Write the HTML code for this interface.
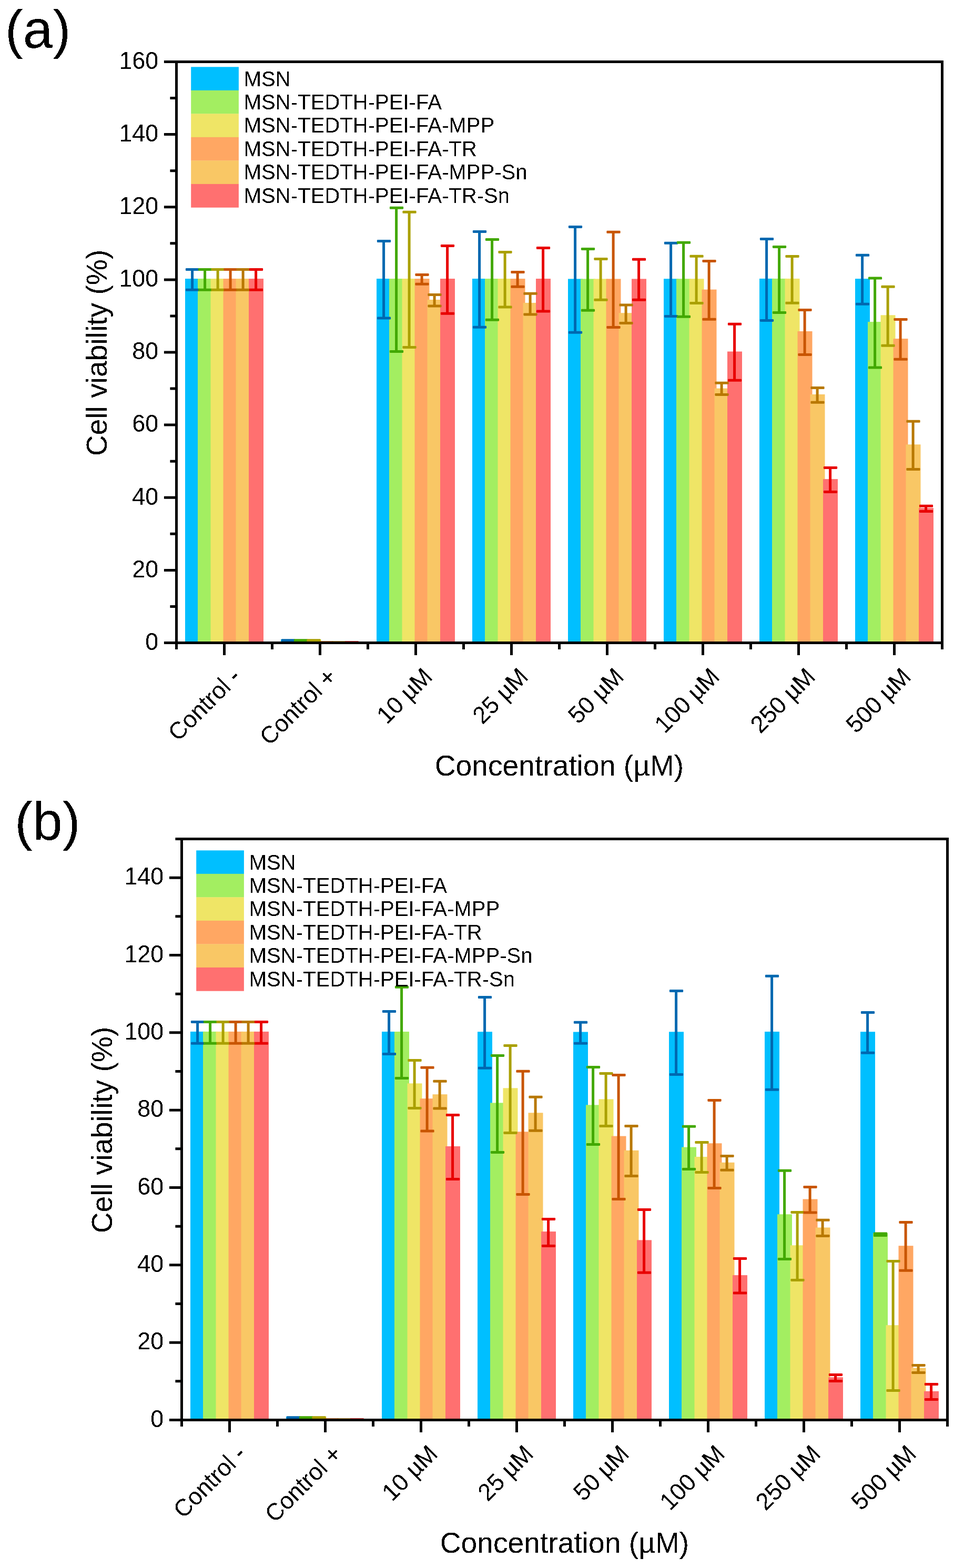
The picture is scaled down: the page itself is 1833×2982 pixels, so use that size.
<!DOCTYPE html><html><head><meta charset="utf-8"><title>Cell viability</title><style>html,body{margin:0;padding:0;background:#fff;}svg{display:block;}</style></head><body>
<svg width="1833" height="2982" viewBox="0 0 1833 2982">
<rect width="1833" height="2982" fill="#fff"/>
<defs><filter id="al" x="-5%" y="-20%" width="110%" height="140%"><feComponentTransfer><feFuncA type="discrete" tableValues="0 1"/></feComponentTransfer></filter></defs>
<rect x="352" y="530" width="28" height="694.5" fill="#00BFFF"/>
<rect x="534" y="1216" width="28" height="8.5" fill="#00BFFF"/>
<rect x="716" y="530" width="28" height="694.5" fill="#00BFFF"/>
<rect x="898" y="530" width="28" height="694.5" fill="#00BFFF"/>
<rect x="1080" y="530.4" width="28" height="694.1" fill="#00BFFF"/>
<rect x="1262" y="530.2" width="28" height="694.3" fill="#00BFFF"/>
<rect x="1444" y="529.9" width="28" height="694.6" fill="#00BFFF"/>
<rect x="1626" y="530.1" width="28" height="694.4" fill="#00BFFF"/>
<rect x="376" y="530" width="28" height="694.5" fill="#A3EE61"/>
<rect x="558" y="1216" width="28" height="8.5" fill="#A3EE61"/>
<rect x="740" y="530" width="28" height="694.5" fill="#A3EE61"/>
<rect x="922" y="530" width="28" height="694.5" fill="#A3EE61"/>
<rect x="1104" y="530.4" width="28" height="694.1" fill="#A3EE61"/>
<rect x="1286" y="530.2" width="28" height="694.3" fill="#A3EE61"/>
<rect x="1468" y="529.9" width="28" height="694.6" fill="#A3EE61"/>
<rect x="1650" y="612.1" width="28" height="612.4" fill="#A3EE61"/>
<rect x="400.5" y="530" width="28" height="694.5" fill="#EFE566"/>
<rect x="582.5" y="1216" width="28" height="8.5" fill="#EFE566"/>
<rect x="764.5" y="530" width="28" height="694.5" fill="#EFE566"/>
<rect x="946.5" y="530" width="28" height="694.5" fill="#EFE566"/>
<rect x="1128.5" y="530.4" width="28" height="694.1" fill="#EFE566"/>
<rect x="1310.5" y="530.2" width="28" height="694.3" fill="#EFE566"/>
<rect x="1492.5" y="529.9" width="28" height="694.6" fill="#EFE566"/>
<rect x="1674.5" y="599.3" width="28" height="625.2" fill="#EFE566"/>
<rect x="424.5" y="530" width="28" height="694.5" fill="#FFA763"/>
<rect x="606.5" y="1221" width="28" height="3.5" fill="#FFA763"/>
<rect x="788.5" y="530" width="28" height="694.5" fill="#FFA763"/>
<rect x="970.5" y="530" width="28" height="694.5" fill="#FFA763"/>
<rect x="1152.5" y="530.4" width="28" height="694.1" fill="#FFA763"/>
<rect x="1334.5" y="550.6" width="28" height="673.9" fill="#FFA763"/>
<rect x="1516.5" y="630" width="28" height="594.5" fill="#FFA763"/>
<rect x="1698.5" y="644.1" width="28" height="580.4" fill="#FFA763"/>
<rect x="448.5" y="530" width="28" height="694.5" fill="#F9C765"/>
<rect x="630.5" y="1221" width="28" height="3.5" fill="#F9C765"/>
<rect x="812.5" y="570" width="28" height="654.5" fill="#F9C765"/>
<rect x="994.5" y="575.9" width="28" height="648.6" fill="#F9C765"/>
<rect x="1176.5" y="595.2" width="28" height="629.3" fill="#F9C765"/>
<rect x="1358.5" y="738.6" width="28" height="485.9" fill="#F9C765"/>
<rect x="1540.5" y="750" width="28" height="474.5" fill="#F9C765"/>
<rect x="1722.5" y="845.3" width="28" height="379.2" fill="#F9C765"/>
<rect x="473" y="530" width="28" height="694.5" fill="#FF7070"/>
<rect x="655" y="1221" width="28" height="3.5" fill="#FF7070"/>
<rect x="837" y="530" width="28" height="694.5" fill="#FF7070"/>
<rect x="1019" y="530" width="28" height="694.5" fill="#FF7070"/>
<rect x="1201" y="530.4" width="28" height="694.1" fill="#FF7070"/>
<rect x="1383" y="668.5" width="28" height="556" fill="#FF7070"/>
<rect x="1565" y="911.1" width="28" height="313.4" fill="#FF7070"/>
<rect x="1747" y="966.1" width="28" height="258.4" fill="#FF7070"/>
<path d="M365.6 512.5V551.3M547.6 1217.7V1222M729.6 458.5V605.1M911.6 440.5V622.2M1093.6 431.4V632.2M1275.6 462.2V601.4M1457.6 454.5V609.4M1639.6 485.3V578.2" stroke="#0068B0" stroke-width="5" fill="none"/>
<rect x="352.9" y="510" width="26.2" height="5" rx="1.3" fill="#0068B0"/>
<rect x="352.9" y="548.8" width="26.2" height="5" rx="1.3" fill="#0068B0"/>
<rect x="534.9" y="1215.2" width="26.2" height="5" rx="1.3" fill="#0068B0"/>
<rect x="534.9" y="1219.5" width="26.2" height="5" rx="1.3" fill="#0068B0"/>
<rect x="716.9" y="456" width="26.2" height="5" rx="1.3" fill="#0068B0"/>
<rect x="716.9" y="602.6" width="26.2" height="5" rx="1.3" fill="#0068B0"/>
<rect x="898.9" y="438" width="26.2" height="5" rx="1.3" fill="#0068B0"/>
<rect x="898.9" y="619.7" width="26.2" height="5" rx="1.3" fill="#0068B0"/>
<rect x="1080.9" y="428.9" width="26.2" height="5" rx="1.3" fill="#0068B0"/>
<rect x="1080.9" y="629.7" width="26.2" height="5" rx="1.3" fill="#0068B0"/>
<rect x="1262.9" y="459.7" width="26.2" height="5" rx="1.3" fill="#0068B0"/>
<rect x="1262.9" y="598.9" width="26.2" height="5" rx="1.3" fill="#0068B0"/>
<rect x="1444.9" y="452" width="26.2" height="5" rx="1.3" fill="#0068B0"/>
<rect x="1444.9" y="606.9" width="26.2" height="5" rx="1.3" fill="#0068B0"/>
<rect x="1626.9" y="482.8" width="26.2" height="5" rx="1.3" fill="#0068B0"/>
<rect x="1626.9" y="575.7" width="26.2" height="5" rx="1.3" fill="#0068B0"/>
<path d="M389.6 512.5V551.3M571.6 1217.7V1222M753.6 395.2V668.5M935.6 455.6V608.3M1117.6 473.4V590.2M1299.6 461.2V602.2M1481.6 469.4V594.5M1663.6 529.1V699.1" stroke="#42A800" stroke-width="5" fill="none"/>
<rect x="376.9" y="510" width="26.2" height="5" rx="1.3" fill="#42A800"/>
<rect x="376.9" y="548.8" width="26.2" height="5" rx="1.3" fill="#42A800"/>
<rect x="558.9" y="1215.2" width="26.2" height="5" rx="1.3" fill="#42A800"/>
<rect x="558.9" y="1219.5" width="26.2" height="5" rx="1.3" fill="#42A800"/>
<rect x="740.9" y="392.7" width="26.2" height="5" rx="1.3" fill="#42A800"/>
<rect x="740.9" y="666" width="26.2" height="5" rx="1.3" fill="#42A800"/>
<rect x="922.9" y="453.1" width="26.2" height="5" rx="1.3" fill="#42A800"/>
<rect x="922.9" y="605.8" width="26.2" height="5" rx="1.3" fill="#42A800"/>
<rect x="1104.9" y="470.9" width="26.2" height="5" rx="1.3" fill="#42A800"/>
<rect x="1104.9" y="587.7" width="26.2" height="5" rx="1.3" fill="#42A800"/>
<rect x="1286.9" y="458.7" width="26.2" height="5" rx="1.3" fill="#42A800"/>
<rect x="1286.9" y="599.7" width="26.2" height="5" rx="1.3" fill="#42A800"/>
<rect x="1468.9" y="466.9" width="26.2" height="5" rx="1.3" fill="#42A800"/>
<rect x="1468.9" y="592" width="26.2" height="5" rx="1.3" fill="#42A800"/>
<rect x="1650.9" y="526.6" width="26.2" height="5" rx="1.3" fill="#42A800"/>
<rect x="1650.9" y="696.6" width="26.2" height="5" rx="1.3" fill="#42A800"/>
<path d="M414.1 512.5V551.3M596.1 1217.7V1222M778.1 403.3V660.4M960.1 479.4V584M1142.1 492.4V570.3M1324.1 487.3V576.5M1506.1 487.4V576.3M1688.1 545.3V657.3" stroke="#AAA000" stroke-width="5" fill="none"/>
<rect x="401.4" y="510" width="26.2" height="5" rx="1.3" fill="#AAA000"/>
<rect x="401.4" y="548.8" width="26.2" height="5" rx="1.3" fill="#AAA000"/>
<rect x="583.4" y="1215.2" width="26.2" height="5" rx="1.3" fill="#AAA000"/>
<rect x="583.4" y="1219.5" width="26.2" height="5" rx="1.3" fill="#AAA000"/>
<rect x="765.4" y="400.8" width="26.2" height="5" rx="1.3" fill="#AAA000"/>
<rect x="765.4" y="657.9" width="26.2" height="5" rx="1.3" fill="#AAA000"/>
<rect x="947.4" y="476.9" width="26.2" height="5" rx="1.3" fill="#AAA000"/>
<rect x="947.4" y="581.5" width="26.2" height="5" rx="1.3" fill="#AAA000"/>
<rect x="1129.4" y="489.9" width="26.2" height="5" rx="1.3" fill="#AAA000"/>
<rect x="1129.4" y="567.8" width="26.2" height="5" rx="1.3" fill="#AAA000"/>
<rect x="1311.4" y="484.8" width="26.2" height="5" rx="1.3" fill="#AAA000"/>
<rect x="1311.4" y="574" width="26.2" height="5" rx="1.3" fill="#AAA000"/>
<rect x="1493.4" y="484.9" width="26.2" height="5" rx="1.3" fill="#AAA000"/>
<rect x="1493.4" y="573.8" width="26.2" height="5" rx="1.3" fill="#AAA000"/>
<rect x="1675.4" y="542.8" width="26.2" height="5" rx="1.3" fill="#AAA000"/>
<rect x="1675.4" y="654.8" width="26.2" height="5" rx="1.3" fill="#AAA000"/>
<path d="M438.1 512.5V551.3M620.1 1221.7V1222.5M802.1 522.4V540.2M984.1 517.5V545.3M1166.1 441.3V622.4M1348.1 496.4V607.3M1530.1 589.4V674.4M1712.1 607.4V683.3" stroke="#C85500" stroke-width="5" fill="none"/>
<rect x="425.4" y="510" width="26.2" height="5" rx="1.3" fill="#C85500"/>
<rect x="425.4" y="548.8" width="26.2" height="5" rx="1.3" fill="#C85500"/>
<rect x="607.4" y="1219.2" width="26.2" height="5" rx="1.3" fill="#C85500"/>
<rect x="607.4" y="1220" width="26.2" height="5" rx="1.3" fill="#C85500"/>
<rect x="789.4" y="519.9" width="26.2" height="5" rx="1.3" fill="#C85500"/>
<rect x="789.4" y="537.7" width="26.2" height="5" rx="1.3" fill="#C85500"/>
<rect x="971.4" y="515" width="26.2" height="5" rx="1.3" fill="#C85500"/>
<rect x="971.4" y="542.8" width="26.2" height="5" rx="1.3" fill="#C85500"/>
<rect x="1153.4" y="438.8" width="26.2" height="5" rx="1.3" fill="#C85500"/>
<rect x="1153.4" y="619.9" width="26.2" height="5" rx="1.3" fill="#C85500"/>
<rect x="1335.4" y="493.9" width="26.2" height="5" rx="1.3" fill="#C85500"/>
<rect x="1335.4" y="604.8" width="26.2" height="5" rx="1.3" fill="#C85500"/>
<rect x="1517.4" y="586.9" width="26.2" height="5" rx="1.3" fill="#C85500"/>
<rect x="1517.4" y="671.9" width="26.2" height="5" rx="1.3" fill="#C85500"/>
<rect x="1699.4" y="604.9" width="26.2" height="5" rx="1.3" fill="#C85500"/>
<rect x="1699.4" y="680.8" width="26.2" height="5" rx="1.3" fill="#C85500"/>
<path d="M462.1 512.5V551.3M644.1 1221.7V1222.5M826.1 560.5V581.9M1008.1 558.3V597.9M1190.1 580.1V614.6M1372.1 728.3V750.4M1554.1 737.6V765.2M1736.1 801.3V892.5" stroke="#B87800" stroke-width="5" fill="none"/>
<rect x="449.4" y="510" width="26.2" height="5" rx="1.3" fill="#B87800"/>
<rect x="449.4" y="548.8" width="26.2" height="5" rx="1.3" fill="#B87800"/>
<rect x="631.4" y="1219.2" width="26.2" height="5" rx="1.3" fill="#B87800"/>
<rect x="631.4" y="1220" width="26.2" height="5" rx="1.3" fill="#B87800"/>
<rect x="813.4" y="558" width="26.2" height="5" rx="1.3" fill="#B87800"/>
<rect x="813.4" y="579.4" width="26.2" height="5" rx="1.3" fill="#B87800"/>
<rect x="995.4" y="555.8" width="26.2" height="5" rx="1.3" fill="#B87800"/>
<rect x="995.4" y="595.4" width="26.2" height="5" rx="1.3" fill="#B87800"/>
<rect x="1177.4" y="577.6" width="26.2" height="5" rx="1.3" fill="#B87800"/>
<rect x="1177.4" y="612.1" width="26.2" height="5" rx="1.3" fill="#B87800"/>
<rect x="1359.4" y="725.8" width="26.2" height="5" rx="1.3" fill="#B87800"/>
<rect x="1359.4" y="747.9" width="26.2" height="5" rx="1.3" fill="#B87800"/>
<rect x="1541.4" y="735.1" width="26.2" height="5" rx="1.3" fill="#B87800"/>
<rect x="1541.4" y="762.7" width="26.2" height="5" rx="1.3" fill="#B87800"/>
<rect x="1723.4" y="798.8" width="26.2" height="5" rx="1.3" fill="#B87800"/>
<rect x="1723.4" y="890" width="26.2" height="5" rx="1.3" fill="#B87800"/>
<path d="M486.6 512.5V551.3M668.6 1221.7V1222.5M850.6 467.4V596.2M1032.6 471.5V592.1M1214.6 493.3V570.3M1396.6 616.3V723.2M1578.6 889.4V935.4M1760.6 962.2V972.5" stroke="#E80000" stroke-width="5" fill="none"/>
<rect x="473.9" y="510" width="26.2" height="5" rx="1.3" fill="#E80000"/>
<rect x="473.9" y="548.8" width="26.2" height="5" rx="1.3" fill="#E80000"/>
<rect x="655.9" y="1219.2" width="26.2" height="5" rx="1.3" fill="#E80000"/>
<rect x="655.9" y="1220" width="26.2" height="5" rx="1.3" fill="#E80000"/>
<rect x="837.9" y="464.9" width="26.2" height="5" rx="1.3" fill="#E80000"/>
<rect x="837.9" y="593.7" width="26.2" height="5" rx="1.3" fill="#E80000"/>
<rect x="1019.9" y="469" width="26.2" height="5" rx="1.3" fill="#E80000"/>
<rect x="1019.9" y="589.6" width="26.2" height="5" rx="1.3" fill="#E80000"/>
<rect x="1201.9" y="490.8" width="26.2" height="5" rx="1.3" fill="#E80000"/>
<rect x="1201.9" y="567.8" width="26.2" height="5" rx="1.3" fill="#E80000"/>
<rect x="1383.9" y="613.8" width="26.2" height="5" rx="1.3" fill="#E80000"/>
<rect x="1383.9" y="720.7" width="26.2" height="5" rx="1.3" fill="#E80000"/>
<rect x="1565.9" y="886.9" width="26.2" height="5" rx="1.3" fill="#E80000"/>
<rect x="1565.9" y="932.9" width="26.2" height="5" rx="1.3" fill="#E80000"/>
<rect x="1747.9" y="959.7" width="26.2" height="5" rx="1.3" fill="#E80000"/>
<rect x="1747.9" y="970" width="26.2" height="5" rx="1.3" fill="#E80000"/>
<rect x="363.2" y="127.3" width="90.7" height="44.8" fill="#00BFFF"/>
<rect x="363.2" y="171.83" width="90.7" height="44.8" fill="#A3EE61"/>
<rect x="363.2" y="216.36" width="90.7" height="44.8" fill="#EFE566"/>
<rect x="363.2" y="260.89" width="90.7" height="44.8" fill="#FFA763"/>
<rect x="363.2" y="305.42" width="90.7" height="44.8" fill="#F9C765"/>
<rect x="363.2" y="349.95" width="90.7" height="44.8" fill="#FF7070"/>
<text transform="translate(463.6 163.7) scale(1 1.035)" font-size="40.1" font-family="Liberation Sans, Arial, Helvetica, sans-serif" filter="url(#al)">MSN</text>
<text transform="translate(463.6 208.08) scale(1 1.035)" font-size="40.1" font-family="Liberation Sans, Arial, Helvetica, sans-serif" filter="url(#al)">MSN-TEDTH-PEI-FA</text>
<text transform="translate(463.6 252.46) scale(1 1.035)" font-size="40.1" font-family="Liberation Sans, Arial, Helvetica, sans-serif" filter="url(#al)">MSN-TEDTH-PEI-FA-MPP</text>
<text transform="translate(463.6 296.84) scale(1 1.035)" font-size="40.1" font-family="Liberation Sans, Arial, Helvetica, sans-serif" filter="url(#al)">MSN-TEDTH-PEI-FA-TR</text>
<text transform="translate(463.6 341.22) scale(1 1.035)" font-size="40.1" font-family="Liberation Sans, Arial, Helvetica, sans-serif" filter="url(#al)">MSN-TEDTH-PEI-FA-MPP-Sn</text>
<text transform="translate(463.6 385.6) scale(1 1.035)" font-size="40.1" font-family="Liberation Sans, Arial, Helvetica, sans-serif" filter="url(#al)">MSN-TEDTH-PEI-FA-TR-Sn</text>
<rect x="335.5" y="117.5" width="1456" height="1105" fill="none" stroke="#000" stroke-width="5"/>
<path d="M335.5 1222.5H311.9M335.5 1153.44H323.4M335.5 1084.38H311.9M335.5 1015.31H323.4M335.5 946.25H311.9M335.5 877.19H323.4M335.5 808.12H311.9M335.5 739.06H323.4M335.5 670H311.9M335.5 600.94H323.4M335.5 531.88H311.9M335.5 462.81H323.4M335.5 393.75H311.9M335.5 324.69H323.4M335.5 255.62H311.9M335.5 186.56H323.4M335.5 117.5H311.9M335.5 1222.5V1234.9M517.5 1222.5V1234.9M699.5 1222.5V1234.9M881.5 1222.5V1234.9M1063.5 1222.5V1234.9M1245.5 1222.5V1234.9M1427.5 1222.5V1234.9M1609.5 1222.5V1234.9M1791.5 1222.5V1234.9M426.5 1222.5V1246M608.5 1222.5V1246M790.5 1222.5V1246M972.5 1222.5V1246M1154.5 1222.5V1246M1336.5 1222.5V1246M1518.5 1222.5V1246M1700.5 1222.5V1246" stroke="#000" stroke-width="5" fill="none"/>
<text transform="translate(301.2 1235.8) scale(1 1.035)" font-size="45" text-anchor="end" font-family="Liberation Sans, Arial, Helvetica, sans-serif" filter="url(#al)">0</text>
<text transform="translate(301.2 1097.67) scale(1 1.035)" font-size="45" text-anchor="end" font-family="Liberation Sans, Arial, Helvetica, sans-serif" filter="url(#al)">20</text>
<text transform="translate(301.2 959.55) scale(1 1.035)" font-size="45" text-anchor="end" font-family="Liberation Sans, Arial, Helvetica, sans-serif" filter="url(#al)">40</text>
<text transform="translate(301.2 821.42) scale(1 1.035)" font-size="45" text-anchor="end" font-family="Liberation Sans, Arial, Helvetica, sans-serif" filter="url(#al)">60</text>
<text transform="translate(301.2 683.3) scale(1 1.035)" font-size="45" text-anchor="end" font-family="Liberation Sans, Arial, Helvetica, sans-serif" filter="url(#al)">80</text>
<text transform="translate(301.2 545.17) scale(1 1.035)" font-size="45" text-anchor="end" font-family="Liberation Sans, Arial, Helvetica, sans-serif" filter="url(#al)">100</text>
<text transform="translate(301.2 407.05) scale(1 1.035)" font-size="45" text-anchor="end" font-family="Liberation Sans, Arial, Helvetica, sans-serif" filter="url(#al)">120</text>
<text transform="translate(301.2 268.93) scale(1 1.035)" font-size="45" text-anchor="end" font-family="Liberation Sans, Arial, Helvetica, sans-serif" filter="url(#al)">140</text>
<text transform="translate(301.2 130.8) scale(1 1.035)" font-size="45" text-anchor="end" font-family="Liberation Sans, Arial, Helvetica, sans-serif" filter="url(#al)">160</text>
<text transform="translate(460.7 1289.9) rotate(-45) scale(1 1.035)" font-size="45" text-anchor="end" font-family="Liberation Sans, Arial, Helvetica, sans-serif" filter="url(#al)">Control -</text>
<text transform="translate(642.7 1289.9) rotate(-45) scale(1 1.035)" font-size="45" text-anchor="end" font-family="Liberation Sans, Arial, Helvetica, sans-serif" filter="url(#al)">Control +</text>
<text transform="translate(824.7 1289.9) rotate(-45) scale(1 1.035)" font-size="45" text-anchor="end" font-family="Liberation Sans, Arial, Helvetica, sans-serif" filter="url(#al)">10 µM</text>
<text transform="translate(1006.7 1289.9) rotate(-45) scale(1 1.035)" font-size="45" text-anchor="end" font-family="Liberation Sans, Arial, Helvetica, sans-serif" filter="url(#al)">25 µM</text>
<text transform="translate(1188.7 1289.9) rotate(-45) scale(1 1.035)" font-size="45" text-anchor="end" font-family="Liberation Sans, Arial, Helvetica, sans-serif" filter="url(#al)">50 µM</text>
<text transform="translate(1370.7 1289.9) rotate(-45) scale(1 1.035)" font-size="45" text-anchor="end" font-family="Liberation Sans, Arial, Helvetica, sans-serif" filter="url(#al)">100 µM</text>
<text transform="translate(1552.7 1289.9) rotate(-45) scale(1 1.035)" font-size="45" text-anchor="end" font-family="Liberation Sans, Arial, Helvetica, sans-serif" filter="url(#al)">250 µM</text>
<text transform="translate(1734.7 1289.9) rotate(-45) scale(1 1.035)" font-size="45" text-anchor="end" font-family="Liberation Sans, Arial, Helvetica, sans-serif" filter="url(#al)">500 µM</text>
<text transform="translate(202.9 671) rotate(-90)" font-size="55.2" text-anchor="middle" font-family="Liberation Sans, Arial, Helvetica, sans-serif" filter="url(#al)">Cell viability (%)</text>
<text x="1063.5" y="1475.3" font-size="55.2" text-anchor="middle" font-family="Liberation Sans, Arial, Helvetica, sans-serif" filter="url(#al)">Concentration (µM)</text>
<text x="9.8" y="90.6" font-size="102" font-family="Liberation Sans, Arial, Helvetica, sans-serif" filter="url(#al)">(a)</text>
<rect x="362" y="1961.9" width="28" height="740.6" fill="#00BFFF"/>
<rect x="544" y="2694" width="28" height="8.5" fill="#00BFFF"/>
<rect x="726" y="1962" width="28" height="740.5" fill="#00BFFF"/>
<rect x="908" y="1962.2" width="28" height="740.3" fill="#00BFFF"/>
<rect x="1090" y="1962.5" width="28" height="740" fill="#00BFFF"/>
<rect x="1272" y="1962.3" width="28" height="740.2" fill="#00BFFF"/>
<rect x="1454" y="1962" width="28" height="740.5" fill="#00BFFF"/>
<rect x="1636" y="1962.2" width="28" height="740.3" fill="#00BFFF"/>
<rect x="386" y="1961.9" width="28" height="740.6" fill="#A3EE61"/>
<rect x="568" y="2694" width="28" height="8.5" fill="#A3EE61"/>
<rect x="750" y="1962" width="28" height="740.5" fill="#A3EE61"/>
<rect x="932" y="2097.4" width="28" height="605.1" fill="#A3EE61"/>
<rect x="1114" y="2101.4" width="28" height="601.1" fill="#A3EE61"/>
<rect x="1296" y="2181.6" width="28" height="520.9" fill="#A3EE61"/>
<rect x="1478" y="2309.3" width="28" height="393.2" fill="#A3EE61"/>
<rect x="1660" y="2345.2" width="28" height="357.3" fill="#A3EE61"/>
<rect x="410.5" y="1961.9" width="28" height="740.6" fill="#EFE566"/>
<rect x="592.5" y="2694" width="28" height="8.5" fill="#EFE566"/>
<rect x="774.5" y="2060.4" width="28" height="642.1" fill="#EFE566"/>
<rect x="956.5" y="2069.3" width="28" height="633.2" fill="#EFE566"/>
<rect x="1138.5" y="2090.4" width="28" height="612.1" fill="#EFE566"/>
<rect x="1320.5" y="2200" width="28" height="502.5" fill="#EFE566"/>
<rect x="1502.5" y="2368.3" width="28" height="334.2" fill="#EFE566"/>
<rect x="1684.5" y="2520.2" width="28" height="182.3" fill="#EFE566"/>
<rect x="434.5" y="1961.9" width="28" height="740.6" fill="#FFA763"/>
<rect x="616.5" y="2699" width="28" height="3.5" fill="#FFA763"/>
<rect x="798.5" y="2089.2" width="28" height="613.3" fill="#FFA763"/>
<rect x="980.5" y="2152.3" width="28" height="550.2" fill="#FFA763"/>
<rect x="1162.5" y="2160.6" width="28" height="541.9" fill="#FFA763"/>
<rect x="1344.5" y="2174.3" width="28" height="528.2" fill="#FFA763"/>
<rect x="1526.5" y="2280.5" width="28" height="422" fill="#FFA763"/>
<rect x="1708.5" y="2369.2" width="28" height="333.3" fill="#FFA763"/>
<rect x="458.5" y="1961.9" width="28" height="740.6" fill="#F9C765"/>
<rect x="640.5" y="2699" width="28" height="3.5" fill="#F9C765"/>
<rect x="822.5" y="2081.2" width="28" height="621.3" fill="#F9C765"/>
<rect x="1004.5" y="2116.3" width="28" height="586.2" fill="#F9C765"/>
<rect x="1186.5" y="2187.8" width="28" height="514.7" fill="#F9C765"/>
<rect x="1368.5" y="2210.8" width="28" height="491.7" fill="#F9C765"/>
<rect x="1550.5" y="2334.5" width="28" height="368" fill="#F9C765"/>
<rect x="1732.5" y="2601.5" width="28" height="101" fill="#F9C765"/>
<rect x="483" y="1961.9" width="28" height="740.6" fill="#FF7070"/>
<rect x="665" y="2699" width="28" height="3.5" fill="#FF7070"/>
<rect x="847" y="2180" width="28" height="522.5" fill="#FF7070"/>
<rect x="1029" y="2342.1" width="28" height="360.4" fill="#FF7070"/>
<rect x="1211" y="2358.4" width="28" height="344.1" fill="#FF7070"/>
<rect x="1393" y="2425.1" width="28" height="277.4" fill="#FF7070"/>
<rect x="1575" y="2619.2" width="28" height="83.3" fill="#FF7070"/>
<rect x="1757" y="2645.8" width="28" height="56.7" fill="#FF7070"/>
<path d="M375.6 1943.4V1984.3M557.6 2695.7V2700M739.6 1923.6V2004.5M921.6 1896.6V2031.3M1103.6 1944.2V1984.3M1285.6 1884.5V2043.5M1467.6 1856.3V2072.2M1649.6 1925.6V2002.3" stroke="#0068B0" stroke-width="5" fill="none"/>
<rect x="362.9" y="1940.9" width="26.2" height="5" rx="1.3" fill="#0068B0"/>
<rect x="362.9" y="1981.8" width="26.2" height="5" rx="1.3" fill="#0068B0"/>
<rect x="544.9" y="2693.2" width="26.2" height="5" rx="1.3" fill="#0068B0"/>
<rect x="544.9" y="2697.5" width="26.2" height="5" rx="1.3" fill="#0068B0"/>
<rect x="726.9" y="1921.1" width="26.2" height="5" rx="1.3" fill="#0068B0"/>
<rect x="726.9" y="2002" width="26.2" height="5" rx="1.3" fill="#0068B0"/>
<rect x="908.9" y="1894.1" width="26.2" height="5" rx="1.3" fill="#0068B0"/>
<rect x="908.9" y="2028.8" width="26.2" height="5" rx="1.3" fill="#0068B0"/>
<rect x="1090.9" y="1941.7" width="26.2" height="5" rx="1.3" fill="#0068B0"/>
<rect x="1090.9" y="1981.8" width="26.2" height="5" rx="1.3" fill="#0068B0"/>
<rect x="1272.9" y="1882" width="26.2" height="5" rx="1.3" fill="#0068B0"/>
<rect x="1272.9" y="2041" width="26.2" height="5" rx="1.3" fill="#0068B0"/>
<rect x="1454.9" y="1853.8" width="26.2" height="5" rx="1.3" fill="#0068B0"/>
<rect x="1454.9" y="2069.7" width="26.2" height="5" rx="1.3" fill="#0068B0"/>
<rect x="1636.9" y="1923.1" width="26.2" height="5" rx="1.3" fill="#0068B0"/>
<rect x="1636.9" y="1999.8" width="26.2" height="5" rx="1.3" fill="#0068B0"/>
<path d="M399.6 1943.4V1984.3M581.6 2695.7V2700M763.6 1877.3V2050.5M945.6 2007.4V2191.4M1127.6 2029.5V2176.5M1309.6 2142.3V2223.5M1491.6 2226.3V2394.5M1673.6 2346V2349.5" stroke="#42A800" stroke-width="5" fill="none"/>
<rect x="386.9" y="1940.9" width="26.2" height="5" rx="1.3" fill="#42A800"/>
<rect x="386.9" y="1981.8" width="26.2" height="5" rx="1.3" fill="#42A800"/>
<rect x="568.9" y="2693.2" width="26.2" height="5" rx="1.3" fill="#42A800"/>
<rect x="568.9" y="2697.5" width="26.2" height="5" rx="1.3" fill="#42A800"/>
<rect x="750.9" y="1874.8" width="26.2" height="5" rx="1.3" fill="#42A800"/>
<rect x="750.9" y="2048" width="26.2" height="5" rx="1.3" fill="#42A800"/>
<rect x="932.9" y="2004.9" width="26.2" height="5" rx="1.3" fill="#42A800"/>
<rect x="932.9" y="2188.9" width="26.2" height="5" rx="1.3" fill="#42A800"/>
<rect x="1114.9" y="2027" width="26.2" height="5" rx="1.3" fill="#42A800"/>
<rect x="1114.9" y="2174" width="26.2" height="5" rx="1.3" fill="#42A800"/>
<rect x="1296.9" y="2139.8" width="26.2" height="5" rx="1.3" fill="#42A800"/>
<rect x="1296.9" y="2221" width="26.2" height="5" rx="1.3" fill="#42A800"/>
<rect x="1478.9" y="2223.8" width="26.2" height="5" rx="1.3" fill="#42A800"/>
<rect x="1478.9" y="2392" width="26.2" height="5" rx="1.3" fill="#42A800"/>
<rect x="1660.9" y="2343.5" width="26.2" height="5" rx="1.3" fill="#42A800"/>
<rect x="1660.9" y="2347" width="26.2" height="5" rx="1.3" fill="#42A800"/>
<path d="M424.1 1943.4V1984.3M606.1 2695.7V2700M788.1 2016.5V2107.4M970.1 1988.5V2154.4M1152.1 2041.4V2141.5M1334.1 2172.5V2229.5M1516.1 2305.4V2434.4M1698.1 2398.4V2644.5" stroke="#AAA000" stroke-width="5" fill="none"/>
<rect x="411.4" y="1940.9" width="26.2" height="5" rx="1.3" fill="#AAA000"/>
<rect x="411.4" y="1981.8" width="26.2" height="5" rx="1.3" fill="#AAA000"/>
<rect x="593.4" y="2693.2" width="26.2" height="5" rx="1.3" fill="#AAA000"/>
<rect x="593.4" y="2697.5" width="26.2" height="5" rx="1.3" fill="#AAA000"/>
<rect x="775.4" y="2014" width="26.2" height="5" rx="1.3" fill="#AAA000"/>
<rect x="775.4" y="2104.9" width="26.2" height="5" rx="1.3" fill="#AAA000"/>
<rect x="957.4" y="1986" width="26.2" height="5" rx="1.3" fill="#AAA000"/>
<rect x="957.4" y="2151.9" width="26.2" height="5" rx="1.3" fill="#AAA000"/>
<rect x="1139.4" y="2038.9" width="26.2" height="5" rx="1.3" fill="#AAA000"/>
<rect x="1139.4" y="2139" width="26.2" height="5" rx="1.3" fill="#AAA000"/>
<rect x="1321.4" y="2170" width="26.2" height="5" rx="1.3" fill="#AAA000"/>
<rect x="1321.4" y="2227" width="26.2" height="5" rx="1.3" fill="#AAA000"/>
<rect x="1503.4" y="2302.9" width="26.2" height="5" rx="1.3" fill="#AAA000"/>
<rect x="1503.4" y="2431.9" width="26.2" height="5" rx="1.3" fill="#AAA000"/>
<rect x="1685.4" y="2395.9" width="26.2" height="5" rx="1.3" fill="#AAA000"/>
<rect x="1685.4" y="2642" width="26.2" height="5" rx="1.3" fill="#AAA000"/>
<path d="M448.1 1943.4V1984.3M630.1 2699.7V2700.5M812.1 2030.3V2151M994.1 2037.3V2271.4M1176.1 2044.5V2280.5M1358.1 2092.4V2259.5M1540.1 2257.4V2306.1M1722.1 2324.5V2416.3" stroke="#C85500" stroke-width="5" fill="none"/>
<rect x="435.4" y="1940.9" width="26.2" height="5" rx="1.3" fill="#C85500"/>
<rect x="435.4" y="1981.8" width="26.2" height="5" rx="1.3" fill="#C85500"/>
<rect x="617.4" y="2697.2" width="26.2" height="5" rx="1.3" fill="#C85500"/>
<rect x="617.4" y="2698" width="26.2" height="5" rx="1.3" fill="#C85500"/>
<rect x="799.4" y="2027.8" width="26.2" height="5" rx="1.3" fill="#C85500"/>
<rect x="799.4" y="2148.5" width="26.2" height="5" rx="1.3" fill="#C85500"/>
<rect x="981.4" y="2034.8" width="26.2" height="5" rx="1.3" fill="#C85500"/>
<rect x="981.4" y="2268.9" width="26.2" height="5" rx="1.3" fill="#C85500"/>
<rect x="1163.4" y="2042" width="26.2" height="5" rx="1.3" fill="#C85500"/>
<rect x="1163.4" y="2278" width="26.2" height="5" rx="1.3" fill="#C85500"/>
<rect x="1345.4" y="2089.9" width="26.2" height="5" rx="1.3" fill="#C85500"/>
<rect x="1345.4" y="2257" width="26.2" height="5" rx="1.3" fill="#C85500"/>
<rect x="1527.4" y="2254.9" width="26.2" height="5" rx="1.3" fill="#C85500"/>
<rect x="1527.4" y="2303.6" width="26.2" height="5" rx="1.3" fill="#C85500"/>
<rect x="1709.4" y="2322" width="26.2" height="5" rx="1.3" fill="#C85500"/>
<rect x="1709.4" y="2413.8" width="26.2" height="5" rx="1.3" fill="#C85500"/>
<path d="M472.1 1943.4V1984.3M654.1 2699.7V2700.5M836.1 2056.3V2108.1M1018.1 2086.3V2150.2M1200.1 2141.5V2236.6M1382.1 2198.4V2225.3M1564.1 2320.3V2350.4M1746.1 2596.4V2610.4" stroke="#B87800" stroke-width="5" fill="none"/>
<rect x="459.4" y="1940.9" width="26.2" height="5" rx="1.3" fill="#B87800"/>
<rect x="459.4" y="1981.8" width="26.2" height="5" rx="1.3" fill="#B87800"/>
<rect x="641.4" y="2697.2" width="26.2" height="5" rx="1.3" fill="#B87800"/>
<rect x="641.4" y="2698" width="26.2" height="5" rx="1.3" fill="#B87800"/>
<rect x="823.4" y="2053.8" width="26.2" height="5" rx="1.3" fill="#B87800"/>
<rect x="823.4" y="2105.6" width="26.2" height="5" rx="1.3" fill="#B87800"/>
<rect x="1005.4" y="2083.8" width="26.2" height="5" rx="1.3" fill="#B87800"/>
<rect x="1005.4" y="2147.7" width="26.2" height="5" rx="1.3" fill="#B87800"/>
<rect x="1187.4" y="2139" width="26.2" height="5" rx="1.3" fill="#B87800"/>
<rect x="1187.4" y="2234.1" width="26.2" height="5" rx="1.3" fill="#B87800"/>
<rect x="1369.4" y="2195.9" width="26.2" height="5" rx="1.3" fill="#B87800"/>
<rect x="1369.4" y="2222.8" width="26.2" height="5" rx="1.3" fill="#B87800"/>
<rect x="1551.4" y="2317.8" width="26.2" height="5" rx="1.3" fill="#B87800"/>
<rect x="1551.4" y="2347.9" width="26.2" height="5" rx="1.3" fill="#B87800"/>
<rect x="1733.4" y="2593.9" width="26.2" height="5" rx="1.3" fill="#B87800"/>
<rect x="1733.4" y="2607.9" width="26.2" height="5" rx="1.3" fill="#B87800"/>
<path d="M496.6 1943.4V1984.3M678.6 2699.7V2700.5M860.6 2120.6V2242.5M1042.6 2318.4V2369.4M1224.6 2300.5V2420.3M1406.6 2393.6V2459M1588.6 2614.5V2626.5M1770.6 2632.5V2661.4" stroke="#E80000" stroke-width="5" fill="none"/>
<rect x="483.9" y="1940.9" width="26.2" height="5" rx="1.3" fill="#E80000"/>
<rect x="483.9" y="1981.8" width="26.2" height="5" rx="1.3" fill="#E80000"/>
<rect x="665.9" y="2697.2" width="26.2" height="5" rx="1.3" fill="#E80000"/>
<rect x="665.9" y="2698" width="26.2" height="5" rx="1.3" fill="#E80000"/>
<rect x="847.9" y="2118.1" width="26.2" height="5" rx="1.3" fill="#E80000"/>
<rect x="847.9" y="2240" width="26.2" height="5" rx="1.3" fill="#E80000"/>
<rect x="1029.9" y="2315.9" width="26.2" height="5" rx="1.3" fill="#E80000"/>
<rect x="1029.9" y="2366.9" width="26.2" height="5" rx="1.3" fill="#E80000"/>
<rect x="1211.9" y="2298" width="26.2" height="5" rx="1.3" fill="#E80000"/>
<rect x="1211.9" y="2417.8" width="26.2" height="5" rx="1.3" fill="#E80000"/>
<rect x="1393.9" y="2391.1" width="26.2" height="5" rx="1.3" fill="#E80000"/>
<rect x="1393.9" y="2456.5" width="26.2" height="5" rx="1.3" fill="#E80000"/>
<rect x="1575.9" y="2612" width="26.2" height="5" rx="1.3" fill="#E80000"/>
<rect x="1575.9" y="2624" width="26.2" height="5" rx="1.3" fill="#E80000"/>
<rect x="1757.9" y="2630" width="26.2" height="5" rx="1.3" fill="#E80000"/>
<rect x="1757.9" y="2658.9" width="26.2" height="5" rx="1.3" fill="#E80000"/>
<rect x="373.2" y="1617.3" width="90.7" height="44.8" fill="#00BFFF"/>
<rect x="373.2" y="1661.83" width="90.7" height="44.8" fill="#A3EE61"/>
<rect x="373.2" y="1706.36" width="90.7" height="44.8" fill="#EFE566"/>
<rect x="373.2" y="1750.89" width="90.7" height="44.8" fill="#FFA763"/>
<rect x="373.2" y="1795.42" width="90.7" height="44.8" fill="#F9C765"/>
<rect x="373.2" y="1839.95" width="90.7" height="44.8" fill="#FF7070"/>
<text transform="translate(473.6 1653.7) scale(1 1.035)" font-size="40.1" font-family="Liberation Sans, Arial, Helvetica, sans-serif" filter="url(#al)">MSN</text>
<text transform="translate(473.6 1698.08) scale(1 1.035)" font-size="40.1" font-family="Liberation Sans, Arial, Helvetica, sans-serif" filter="url(#al)">MSN-TEDTH-PEI-FA</text>
<text transform="translate(473.6 1742.46) scale(1 1.035)" font-size="40.1" font-family="Liberation Sans, Arial, Helvetica, sans-serif" filter="url(#al)">MSN-TEDTH-PEI-FA-MPP</text>
<text transform="translate(473.6 1786.84) scale(1 1.035)" font-size="40.1" font-family="Liberation Sans, Arial, Helvetica, sans-serif" filter="url(#al)">MSN-TEDTH-PEI-FA-TR</text>
<text transform="translate(473.6 1831.22) scale(1 1.035)" font-size="40.1" font-family="Liberation Sans, Arial, Helvetica, sans-serif" filter="url(#al)">MSN-TEDTH-PEI-FA-MPP-Sn</text>
<text transform="translate(473.6 1875.6) scale(1 1.035)" font-size="40.1" font-family="Liberation Sans, Arial, Helvetica, sans-serif" filter="url(#al)">MSN-TEDTH-PEI-FA-TR-Sn</text>
<rect x="345.5" y="1595.5" width="1456" height="1105" fill="none" stroke="#000" stroke-width="5"/>
<path d="M345.5 2700.5H321.9M345.5 2626.83H333.4M345.5 2553.17H321.9M345.5 2479.5H333.4M345.5 2405.83H321.9M345.5 2332.17H333.4M345.5 2258.5H321.9M345.5 2184.83H333.4M345.5 2111.17H321.9M345.5 2037.5H333.4M345.5 1963.83H321.9M345.5 1890.17H333.4M345.5 1816.5H321.9M345.5 1742.83H333.4M345.5 1669.17H321.9M345.5 1595.5H333.4M345.5 2700.5V2712.9M527.5 2700.5V2712.9M709.5 2700.5V2712.9M891.5 2700.5V2712.9M1073.5 2700.5V2712.9M1255.5 2700.5V2712.9M1437.5 2700.5V2712.9M1619.5 2700.5V2712.9M1801.5 2700.5V2712.9M436.5 2700.5V2724M618.5 2700.5V2724M800.5 2700.5V2724M982.5 2700.5V2724M1164.5 2700.5V2724M1346.5 2700.5V2724M1528.5 2700.5V2724M1710.5 2700.5V2724" stroke="#000" stroke-width="5" fill="none"/>
<text transform="translate(311.2 2713.8) scale(1 1.035)" font-size="45" text-anchor="end" font-family="Liberation Sans, Arial, Helvetica, sans-serif" filter="url(#al)">0</text>
<text transform="translate(311.2 2566.47) scale(1 1.035)" font-size="45" text-anchor="end" font-family="Liberation Sans, Arial, Helvetica, sans-serif" filter="url(#al)">20</text>
<text transform="translate(311.2 2419.13) scale(1 1.035)" font-size="45" text-anchor="end" font-family="Liberation Sans, Arial, Helvetica, sans-serif" filter="url(#al)">40</text>
<text transform="translate(311.2 2271.8) scale(1 1.035)" font-size="45" text-anchor="end" font-family="Liberation Sans, Arial, Helvetica, sans-serif" filter="url(#al)">60</text>
<text transform="translate(311.2 2124.47) scale(1 1.035)" font-size="45" text-anchor="end" font-family="Liberation Sans, Arial, Helvetica, sans-serif" filter="url(#al)">80</text>
<text transform="translate(311.2 1977.13) scale(1 1.035)" font-size="45" text-anchor="end" font-family="Liberation Sans, Arial, Helvetica, sans-serif" filter="url(#al)">100</text>
<text transform="translate(311.2 1829.8) scale(1 1.035)" font-size="45" text-anchor="end" font-family="Liberation Sans, Arial, Helvetica, sans-serif" filter="url(#al)">120</text>
<text transform="translate(311.2 1682.47) scale(1 1.035)" font-size="45" text-anchor="end" font-family="Liberation Sans, Arial, Helvetica, sans-serif" filter="url(#al)">140</text>
<text transform="translate(470.7 2767.9) rotate(-45) scale(1 1.035)" font-size="45" text-anchor="end" font-family="Liberation Sans, Arial, Helvetica, sans-serif" filter="url(#al)">Control -</text>
<text transform="translate(652.7 2767.9) rotate(-45) scale(1 1.035)" font-size="45" text-anchor="end" font-family="Liberation Sans, Arial, Helvetica, sans-serif" filter="url(#al)">Control +</text>
<text transform="translate(834.7 2767.9) rotate(-45) scale(1 1.035)" font-size="45" text-anchor="end" font-family="Liberation Sans, Arial, Helvetica, sans-serif" filter="url(#al)">10 µM</text>
<text transform="translate(1016.7 2767.9) rotate(-45) scale(1 1.035)" font-size="45" text-anchor="end" font-family="Liberation Sans, Arial, Helvetica, sans-serif" filter="url(#al)">25 µM</text>
<text transform="translate(1198.7 2767.9) rotate(-45) scale(1 1.035)" font-size="45" text-anchor="end" font-family="Liberation Sans, Arial, Helvetica, sans-serif" filter="url(#al)">50 µM</text>
<text transform="translate(1380.7 2767.9) rotate(-45) scale(1 1.035)" font-size="45" text-anchor="end" font-family="Liberation Sans, Arial, Helvetica, sans-serif" filter="url(#al)">100 µM</text>
<text transform="translate(1562.7 2767.9) rotate(-45) scale(1 1.035)" font-size="45" text-anchor="end" font-family="Liberation Sans, Arial, Helvetica, sans-serif" filter="url(#al)">250 µM</text>
<text transform="translate(1744.7 2767.9) rotate(-45) scale(1 1.035)" font-size="45" text-anchor="end" font-family="Liberation Sans, Arial, Helvetica, sans-serif" filter="url(#al)">500 µM</text>
<text transform="translate(212.9 2149) rotate(-90)" font-size="55.2" text-anchor="middle" font-family="Liberation Sans, Arial, Helvetica, sans-serif" filter="url(#al)">Cell viability (%)</text>
<text x="1073.5" y="2953.3" font-size="55.2" text-anchor="middle" font-family="Liberation Sans, Arial, Helvetica, sans-serif" filter="url(#al)">Concentration (µM)</text>
<text x="28" y="1596.6" font-size="102" font-family="Liberation Sans, Arial, Helvetica, sans-serif" filter="url(#al)">(b)</text>
</svg></body></html>
